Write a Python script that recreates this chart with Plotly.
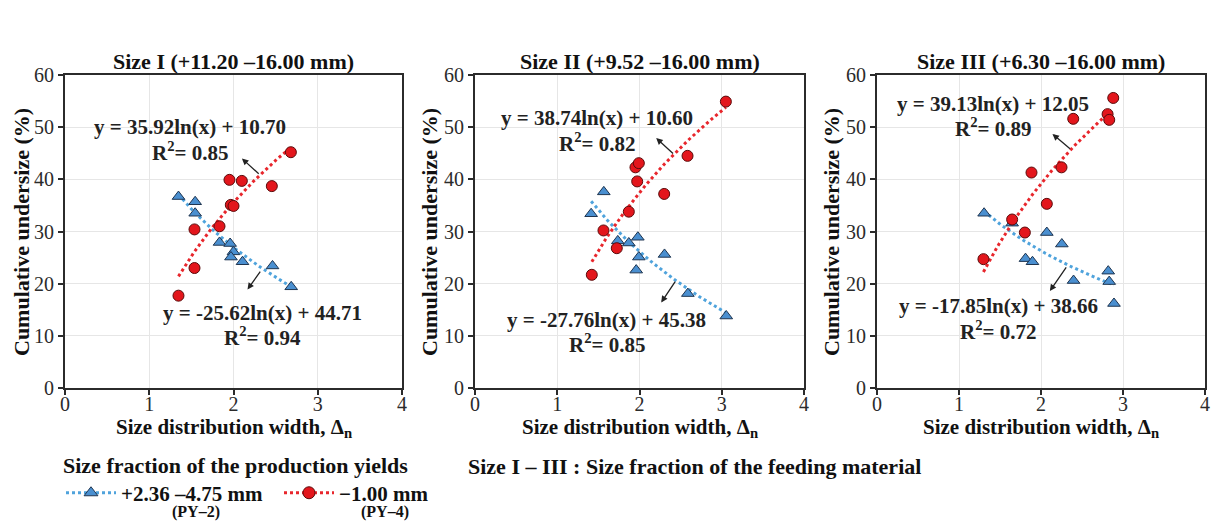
import numpy as np
import plotly.graph_objects as go

W, H = 1216, 521


def px(xp):
    return xp / W


def py(yp):
    return 1 - yp / H


titles = ["Size I (+11.20 \u201316.00 mm)", "Size II (+9.52 \u201316.00 mm)", "Size III (+6.30 \u201316.00 mm)"]

# PY-4 (-1.00 mm) red circles
red_x1 = [1.347, 1.537, 1.537, 1.834, 1.952, 2.099, 1.968, 2.000, 2.455, 2.681]
red_y1 = [17.7, 23.0, 30.4, 31.0, 39.9, 39.7, 35.1, 34.9, 38.7, 45.2]
red_x2 = [1.420, 1.562, 1.724, 1.870, 1.951, 1.992, 1.972, 2.300, 2.584, 3.050]
red_y2 = [21.7, 30.2, 26.8, 33.8, 42.3, 43.1, 39.6, 37.2, 44.5, 54.9]
red_x3 = [1.298, 1.648, 1.803, 1.884, 2.071, 2.250, 2.393, 2.812, 2.832, 2.881]
red_y3 = [24.7, 32.3, 29.8, 41.3, 35.3, 42.3, 51.6, 52.5, 51.4, 55.6]

# PY-2 (+2.36 -4.75 mm) blue triangles
blue_x1 = [1.347, 1.545, 1.545, 1.834, 1.960, 2.000, 1.970, 2.107, 2.463, 2.685]
blue_y1 = [36.7, 35.7, 33.5, 27.9, 27.7, 26.1, 25.1, 24.2, 23.4, 19.4]
blue_x2 = [1.412, 1.566, 1.736, 1.870, 1.980, 1.992, 1.960, 2.304, 2.588, 3.055]
blue_y2 = [33.4, 37.6, 28.2, 27.8, 28.9, 25.1, 22.6, 25.6, 18.1, 13.8]
blue_x3 = [1.306, 1.648, 1.811, 1.896, 2.071, 2.254, 2.397, 2.820, 2.832, 2.890]
blue_y3 = [33.5, 31.6, 24.8, 24.2, 29.8, 27.6, 20.6, 22.4, 20.4, 16.2]

# logarithmic trend coefficients y = a ln(x) + b
red_a = [35.92, 38.74, 39.13]
red_b = [10.70, 10.60, 12.05]
red_r2 = [0.85, 0.82, 0.89]
blue_a = [-25.62, -27.76, -17.85]
blue_b = [44.71, 45.38, 38.66]
blue_r2 = [0.94, 0.85, 0.72]

red_xs = [red_x1, red_x2, red_x3]
red_ys = [red_y1, red_y2, red_y3]
blue_xs = [blue_x1, blue_x2, blue_x3]
blue_ys = [blue_y1, blue_y2, blue_y3]

x_ticks = [0, 1, 2, 3, 4]
y_ticks = [0, 10, 20, 30, 40, 50, 60]

legend_names = ["+2.36 \u20134.75 mm", "\u22121.00 mm"]
legend_sub = ["(PY\u20132)", "(PY\u20134)"]

# label / arrow placement (data coords)
red_lab = [(1.485, 50.0, 45.4), (1.489, 51.7, 47.1), (1.416, 54.5, 49.9)]
blue_lab = [(2.35, 14.4, 9.9), (1.60, 13.0, 8.5), (1.477, 15.7, 11.1)]
red_arrow = [((2.317, 40.8), (2.10, 44.0)), ((2.426, 44.7), (2.203, 47.9)), ((2.372, 45.6), (2.14, 48.7))]
blue_arrow = [((2.33, 22.6), (2.166, 18.9)), ((2.446, 20.7), (2.264, 16.4)), ((2.32, 23.4), (2.108, 18.6))]

FONT = "Liberation Serif"
RED = "#e3161c"
RED_LINE = "#e8262c"
BLUE = "#4a8fd0"
BLUE_LINE = "#4fa3dc"
DARK = "#2b2b2b"
TXT = "#111111"
MSIZE = 11

# page-pixel domains
xdom_px = [(65, 402), (475, 804), (877, 1205)]
ydom_px = (75, 388)

fig = go.Figure()

for i in range(3):
    xa = "x" if i == 0 else f"x{i+1}"
    ya = "y" if i == 0 else f"y{i+1}"
    bx = np.linspace(min(blue_xs[i]), max(blue_xs[i]), 60)
    rx = np.linspace(min(red_xs[i]), max(red_xs[i]), 60)
    fig.add_trace(go.Scatter(x=bx, y=blue_a[i] * np.log(bx) + blue_b[i], mode="lines",
                             line=dict(color=BLUE_LINE, width=3, dash="dot"),
                             xaxis=xa, yaxis=ya, showlegend=False, hoverinfo="skip"))
    fig.add_trace(go.Scatter(x=rx, y=red_a[i] * np.log(rx) + red_b[i], mode="lines",
                             line=dict(color=RED_LINE, width=3, dash="dot"),
                             xaxis=xa, yaxis=ya, showlegend=False, hoverinfo="skip"))
    fig.add_trace(go.Scatter(x=blue_xs[i], y=blue_ys[i], mode="markers",
                             marker=dict(symbol="triangle-up", size=MSIZE, color=BLUE,
                                         line=dict(color="#1f3550", width=1)),
                             xaxis=xa, yaxis=ya, showlegend=False))
    fig.add_trace(go.Scatter(x=red_xs[i], y=red_ys[i], mode="markers",
                             marker=dict(symbol="circle", size=MSIZE, color=RED,
                                         line=dict(color="#5a0a0a", width=1)),
                             xaxis=xa, yaxis=ya, showlegend=False))

# legend traces
fig.add_trace(go.Scatter(x=[None], y=[None], mode="lines+markers",
                         name=f"<b>{legend_names[0]}</b>",
                         line=dict(color=BLUE_LINE, width=3, dash="dot"),
                         marker=dict(symbol="triangle-up", size=MSIZE + 1, color=BLUE,
                                     line=dict(color="#1f3550", width=1))))
fig.add_trace(go.Scatter(x=[None], y=[None], mode="lines+markers",
                         name=f"<b>{legend_names[1]}</b>",
                         line=dict(color=RED_LINE, width=3, dash="dot"),
                         marker=dict(symbol="circle", size=MSIZE + 1, color=RED,
                                     line=dict(color="#5a0a0a", width=1))))

layout = dict(
    width=W, height=H, margin=dict(l=0, r=0, t=0, b=0, autoexpand=False),
    paper_bgcolor="white", plot_bgcolor="white",
    font=dict(family=FONT, size=20, color=DARK),
    showlegend=True,
    legend=dict(orientation="h", xref="paper", yref="paper",
                x=px(61), y=py(444), xanchor="left", yanchor="top",
                title=dict(text="<b>Size fraction of the production yields</b>", side="top",
                           font=dict(size=22, family=FONT, color=TXT)),
                font=dict(size=21, family=FONT, color=TXT),
                itemwidth=50, entrywidth=153, entrywidthmode="pixels",
                tracegroupgap=0, bgcolor="rgba(0,0,0,0)"),
)

annotations = []
for i in range(3):
    sx = "" if i == 0 else str(i + 1)
    x0, x1 = xdom_px[i]
    axis_common = dict(
        showline=True, linecolor=DARK, linewidth=2, mirror=True,
        ticks="outside", ticklen=5, tickwidth=1.5, tickcolor=DARK,
        showgrid=True, gridcolor="#e6e6e6", gridwidth=1, zeroline=False,
        tickfont=dict(size=20, family=FONT, color=DARK))
    layout[f"xaxis{sx}"] = dict(domain=[px(x0), px(x1)], range=[0, 4], tickvals=x_ticks,
                                anchor=f"y{sx}", ticklabelstandoff=-8, **axis_common)
    layout[f"yaxis{sx}"] = dict(domain=[py(ydom_px[1]), py(ydom_px[0])], range=[0, 60],
                                tickvals=y_ticks, anchor=f"x{sx}", **axis_common)
    cxp = (x0 + x1) / 2
    annotations.append(dict(text=f"<b>{titles[i]}</b>", x=px(cxp), y=py(62), xref="paper", yref="paper",
                            showarrow=False, font=dict(size=22, family=FONT, color=TXT),
                            xanchor="center", yanchor="middle"))
    annotations.append(dict(text="<b>Size distribution width, \u0394<sub>n</sub></b>", x=px(cxp), y=py(428),
                            xref="paper", yref="paper", showarrow=False,
                            font=dict(size=21, family=FONT, color=TXT), xanchor="center", yanchor="middle"))
    ytx = [22, 430, 832][i]
    annotations.append(dict(text="<b>Cumulative undersize (%)</b>", x=px(ytx), y=py(232),
                            xref="paper", yref="paper", showarrow=False, textangle=-90,
                            font=dict(size=22, family=FONT, color=TXT), xanchor="center", yanchor="middle"))
    xr, yr = f"x{sx}", f"y{sx}"
    lx, ly1, ly2 = red_lab[i]
    annotations.append(dict(text=f"<b>y = {red_a[i]:.2f}ln(x) + {red_b[i]:.2f}</b>", x=lx, y=ly1, xref=xr, yref=yr,
                            showarrow=False, font=dict(size=21, family=FONT, color="#222")))
    annotations.append(dict(text=f"<b>R<sup>2</sup>= {red_r2[i]:.2f}</b>", x=lx, y=ly2, xref=xr, yref=yr,
                            showarrow=False, font=dict(size=21, family=FONT, color="#222")))
    lx, ly1, ly2 = blue_lab[i]
    annotations.append(dict(text=f"<b>y = {blue_a[i]:.2f}ln(x) + {blue_b[i]:.2f}</b>", x=lx, y=ly1, xref=xr, yref=yr,
                            showarrow=False, font=dict(size=21, family=FONT, color="#222")))
    annotations.append(dict(text=f"<b>R<sup>2</sup>= {blue_r2[i]:.2f}</b>", x=lx, y=ly2, xref=xr, yref=yr,
                            showarrow=False, font=dict(size=21, family=FONT, color="#222")))
    for (tx, ty), (hx, hy) in [red_arrow[i], blue_arrow[i]]:
        annotations.append(dict(text="", x=hx, y=hy, ax=tx, ay=ty, xref=xr, yref=yr, axref=xr, ayref=yr,
                                showarrow=True, arrowhead=2, arrowsize=1, arrowwidth=1.3, arrowcolor="#222"))

annotations.append(dict(text="<b>Size I \u2013 III : Size fraction of the feeding material</b>",
                        x=px(466), y=py(466), xref="paper", yref="paper", showarrow=False,
                        xanchor="left", yanchor="middle", font=dict(size=22, family=FONT, color=TXT)))
for j, cxp in enumerate([196, 385]):
    annotations.append(dict(text=f"<b>{legend_sub[j]}</b>", x=px(cxp), y=py(512), xref="paper", yref="paper",
                            showarrow=False, xanchor="center", yanchor="middle",
                            font=dict(size=16, family=FONT, color=TXT)))

layout["annotations"] = annotations
fig.update_layout(**layout)
fig.write_html("out.html", config={"displayModeBar": False},
               post_script="document.body.style.margin='0';document.body.style.overflow='hidden';")
